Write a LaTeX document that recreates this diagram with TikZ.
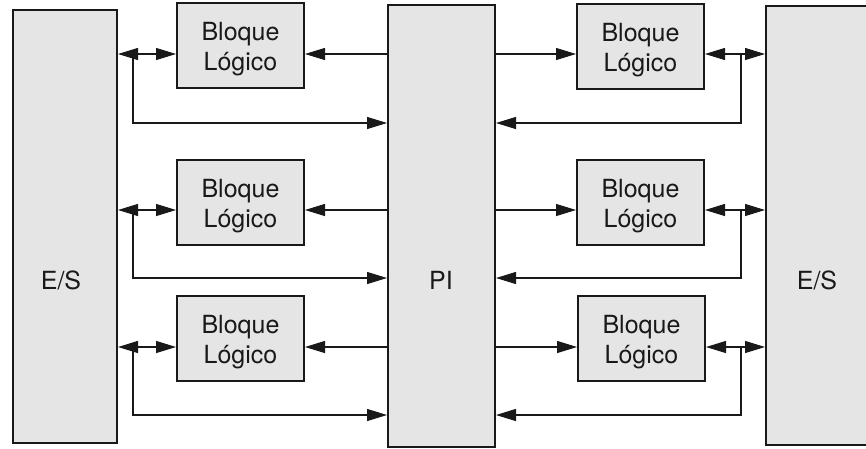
\documentclass[tikz,border=0pt]{standalone}
\usepackage{fontspec}
\setmainfont{TeX Gyre Heros}
\usetikzlibrary{arrows.meta,calc}
\definecolor{boxfill}{RGB}{229,229,229}
\definecolor{ink}{RGB}{25,25,25}
\tikzset{
  panel/.style={draw=ink, line width=2pt, fill=boxfill, inner sep=0pt},
  blockbox/.style={panel, minimum width=127pt, minimum height=85pt},
  lbl/.style={font=\fontsize{25}{30}\selectfont, text=ink, inner sep=0pt, align=center},
  conn/.style={draw=ink, line width=1.1pt},
  tip/.tip={Triangle[length=20pt, width=12pt]},
  oneway/.style={conn, -tip},
  twoway/.style={conn, tip-tip}
}
\begin{document}
\begin{tikzpicture}[x=1pt, y=-1pt]
  \clip (0,0) rectangle (866,448);
  \fill[white] (0,0) rectangle (866,448);

  % tall panels
  \node[panel, minimum width=104pt, minimum height=433pt] (esL) at (65,226.5) {};
  \node[panel, minimum width=107pt, minimum height=442pt] (pi)  at (441.5,226) {};
  \node[panel, minimum width=110pt, minimum height=439pt] (esR) at (821,225.5) {};
  \node[lbl] (tesL) at (61,280) {E/S};
  \node[lbl] (tpi)  at (441,280) {PI};
  \node[lbl] (tesR) at (817,280) {E/S};

  % logic blocks, captions set a little below the centre
  \foreach \n/\x/\y in {l1/240.5/45.5, l2/240.5/202, l3/240.5/338,
                        r1/640.5/46.5, r2/640.5/202, r3/641.5/338.5} {
    \node[blockbox] (\n) at (\x,\y) {};
    \node[lbl] (\n t) at ($(\n)+(0,4)$) {Bloque\\Lógico};
  }

  % signal rows and feedback rows
  \coordinate (a1) at (0,54);  \coordinate (f1) at (0,123);
  \coordinate (a2) at (0,210); \coordinate (f2) at (0,278);
  \coordinate (a3) at (0,347); \coordinate (f3) at (0,415);

  % branch points on the bidirectional links
  \coordinate (jL1) at (133,54);  \coordinate (jR1) at (741,54);
  \coordinate (jL2) at (133,210); \coordinate (jR2) at (741,210);
  \coordinate (jL3) at (133,347); \coordinate (jR3) at (741,347);

  \foreach \i in {1,2,3} {
    % left side
    \draw[oneway] (pi.west |- a\i) -- (l\i.east |- a\i);
    \draw[twoway] (esL.east |- a\i) -- (l\i.west |- a\i);
    \draw[oneway] (jL\i) |- (pi.west |- f\i);
    % right side
    \draw[oneway] (pi.east |- a\i) -- (r\i.west |- a\i);
    \draw[twoway] (r\i.east |- a\i) -- (esR.west |- a\i);
    \draw[oneway] (jR\i) |- (pi.east |- f\i);
  }
\end{tikzpicture}
\end{document}
